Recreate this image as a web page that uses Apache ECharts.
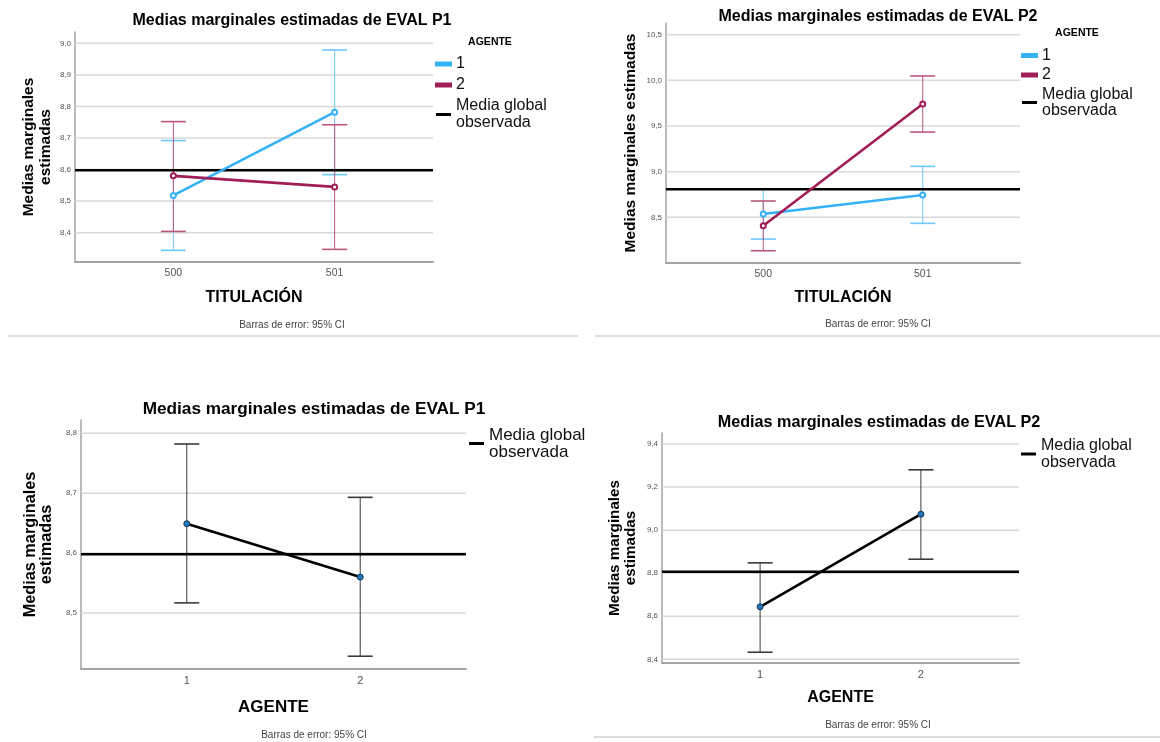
<!DOCTYPE html>
<html>
<head>
<meta charset="utf-8">
<script src="https://cdn.jsdelivr.net/npm/echarts@6/dist/echarts.min.js"></script>
<style>
html,body{margin:0;padding:0;background:#fff;}
#chart{width:1160px;height:742px;}
</style>
</head>
<body>
<div id="chart"></div>
<script>
// ---------- DATA ----------
const titulacion = ['500', '501'];
const agente = ['1', '2'];

// EVAL P1 by TITULACIÓN, separate lines per AGENTE
const p1TitAg1Mean = [8.518, 8.782];
const p1TitAg1Low  = [8.344, 8.584];
const p1TitAg1High = [8.692, 8.979];
const p1TitAg2Mean = [8.580, 8.545];
const p1TitAg2Low  = [8.404, 8.347];
const p1TitAg2High = [8.752, 8.742];

// EVAL P2 by TITULACIÓN, separate lines per AGENTE
const p2TitAg1Mean = [8.536, 8.745];
const p2TitAg1Low  = [8.262, 8.434];
const p2TitAg1High = [8.810, 9.058];
const p2TitAg2Mean = [8.408, 9.741];
const p2TitAg2Low  = [8.134, 9.434];
const p2TitAg2High = [8.679, 10.048];

// EVAL P1 by AGENTE
const p1AgMean = [8.649, 8.560];
const p1AgLow  = [8.517, 8.428];
const p1AgHigh = [8.782, 8.693];

// EVAL P2 by AGENTE
const p2AgMean = [8.644, 9.074];
const p2AgLow  = [8.433, 8.865];
const p2AgHigh = [8.848, 9.280];

// Observed global means
const p1Global = 8.598;
const p2Global = 8.807;

// Y tick values
const ticksP1Tit = [8.4, 8.5, 8.6, 8.7, 8.8, 8.9, 9.0];
const ticksP2Tit = [8.5, 9.0, 9.5, 10.0, 10.5];
const ticksP1Ag  = [8.5, 8.6, 8.7, 8.8];
const ticksP2Ag  = [8.4, 8.6, 8.8, 9.0, 9.2, 9.4];

// ---------- STYLE ----------
const FONT = "'Liberation Sans', Arial, sans-serif";
const BLUE = '#35b1f6';
const BLUE_ERR = '#6cc8fc';
const CRIMSON = '#a01e55';
const CRIMSON_ERR = '#b9587f';
const GRID_C = '#d8d8d8';
const AXIS_C = '#a3a3a3';

const chart = echarts.init(document.getElementById('chart'));

function fmtTick(v) { return (Math.round(v * 10) / 10).toFixed(1).replace('.', ','); }

function toPoints(means) { return means.map((m, i) => [i, m]); }
function toErr(low, high) { return low.map((l, i) => [i, l, high[i]]); }

function gridLines(idx, ticks) {
  return {
    type: 'custom', xAxisIndex: idx, yAxisIndex: idx, z: 1, silent: true,
    data: ticks.map(t => [0, t]),
    encode: { x: 0, y: 1 },
    renderItem: function (params, api) {
      const y = api.coord([0, api.value(1)])[1];
      const cs = params.coordSys;
      return { type: 'line', shape: { x1: cs.x, y1: y, x2: cs.x + cs.width, y2: y },
        style: { stroke: GRID_C, lineWidth: 1.5 } };
    }
  };
}

function globalLine(idx, g) {
  return {
    type: 'custom', name: 'Media global observada', xAxisIndex: idx, yAxisIndex: idx, z: 4, silent: true,
    itemStyle: { color: '#000' },
    data: [[0, g]],
    encode: { x: 0, y: 1 },
    renderItem: function (params, api) {
      const y = api.coord([0, api.value(1)])[1];
      const cs = params.coordSys;
      return { type: 'line', shape: { x1: cs.x, y1: y, x2: cs.x + cs.width, y2: y },
        style: { stroke: '#000', lineWidth: 2.6 } };
    }
  };
}

function errBars(idx, low, high, color, z) {
  return {
    type: 'custom', xAxisIndex: idx, yAxisIndex: idx, z: z || 3, silent: true,
    data: toErr(low, high),
    encode: { x: 0, y: [1, 2] },
    renderItem: function (params, api) {
      const x = api.value(0);
      const lo = api.coord([x, api.value(1)]);
      const hi = api.coord([x, api.value(2)]);
      const hw = 12.5;
      return { type: 'group', children: [
        { type: 'line', shape: { x1: lo[0], y1: lo[1], x2: hi[0], y2: hi[1] }, style: { stroke: color, lineWidth: 1 } },
        { type: 'line', shape: { x1: lo[0] - hw, y1: lo[1], x2: lo[0] + hw, y2: lo[1] }, style: { stroke: color, lineWidth: 1.6 } },
        { type: 'line', shape: { x1: hi[0] - hw, y1: hi[1], x2: hi[0] + hw, y2: hi[1] }, style: { stroke: color, lineWidth: 1.6 } }
      ]};
    }
  };
}

function meanLineTop(idx, name, means, color) {
  return {
    type: 'line', name: name, xAxisIndex: idx, yAxisIndex: idx, z: 5, silent: true,
    data: toPoints(means),
    symbol: 'emptyCircle', symbolSize: 5,
    itemStyle: { color: color, borderColor: color, borderWidth: 1 },
    lineStyle: { color: color, width: 2.6 }
  };
}

function meanLineBottom(idx, means) {
  return {
    type: 'line', name: 'EVAL', xAxisIndex: idx, yAxisIndex: idx, z: 5, silent: true,
    data: toPoints(means),
    symbol: 'circle', symbolSize: 6,
    itemStyle: { color: '#2178be', borderColor: '#12344f', borderWidth: 1 },
    lineStyle: { color: '#000', width: 2.6 }
  };
}

function xAxisDef(idx, cats, name, nameGap, nameSize, labelSize) {
  return {
    type: 'value', gridIndex: idx, min: -0.61, max: 1.61,
    name: name, nameLocation: 'middle', nameGap: nameGap,
    nameTextStyle: { fontFamily: FONT, fontSize: nameSize, fontWeight: 'bold', color: '#000' },
    axisLine: { show: true, onZero: false, lineStyle: { color: AXIS_C, width: 2 } },
    axisTick: { show: false },
    splitLine: { show: false },
    axisLabel: { customValues: [0, 1], margin: 6, fontFamily: FONT, fontSize: labelSize, color: '#555',
      formatter: v => cats[Math.round(v)] }
  };
}

function yAxisDef(idx, min, max, ticks, name, nameGap, nameSize, lh) {
  return {
    type: 'value', gridIndex: idx, min: min, max: max,
    name: name, nameLocation: 'middle', nameGap: nameGap,
    nameTextStyle: { fontFamily: FONT, fontSize: nameSize, fontWeight: 'bold', color: '#000', lineHeight: lh },
    axisLine: { show: true, onZero: false, lineStyle: { color: AXIS_C, width: 1.5 } },
    axisTick: { show: false },
    splitLine: { show: false },
    axisLabel: { customValues: ticks, margin: 4, fontFamily: FONT, fontSize: 8, color: '#555', formatter: fmtTick }
  };
}

function legendDef(left, top, names, fontSize, lineHeight, gap) {
  return {
    left: left, top: top, orient: 'vertical', selectedMode: false,
    data: names, icon: 'rect', itemWidth: 15, itemHeight: 3, itemGap: gap, padding: 0,
    textStyle: { fontFamily: FONT, fontSize: fontSize, color: '#111', lineHeight: lineHeight },
    formatter: n => n === 'Media global observada' ? 'Media global\nobservada' : n
  };
}

function txt(x, y, text, size, bold, color) {
  return { type: 'text', x: x, y: y, silent: true,
    style: { text: text, fontFamily: FONT, fontSize: size, fontWeight: bold ? 'bold' : 'normal',
      fill: color || '#000', textAlign: 'center', textVerticalAlign: 'middle' } };
}

function sep(x1, y, x2) {
  return { type: 'line', silent: true, shape: { x1: x1, y1: y, x2: x2, y2: y }, style: { stroke: '#d3d3d3', lineWidth: 1.5 } };
}

const option = {
  animation: false,
  backgroundColor: '#fff',
  textStyle: { fontFamily: FONT },
  grid: [
    { left: 75, top: 32, width: 358, height: 230 },
    { left: 666, top: 23, width: 354, height: 240 },
    { left: 81, top: 420, width: 385, height: 249 },
    { left: 662, top: 433, width: 357, height: 230 }
  ],
  xAxis: [
    xAxisDef(0, titulacion, 'TITULACIÓN', 28, 16, 10.5),
    xAxisDef(1, titulacion, 'TITULACIÓN', 27, 16, 10.5),
    xAxisDef(2, agente, 'AGENTE', 30, 17, 11),
    xAxisDef(3, agente, 'AGENTE', 27, 16, 11)
  ],
  yAxis: [
    yAxisDef(0, 8.307, 9.036, ticksP1Tit, 'Medias marginales\nestimadas', 21, 15.5, 17),
    yAxisDef(1, 8.0, 10.628, ticksP2Tit, 'Medias marginales estimadas', 27, 15.5, 17),
    yAxisDef(2, 8.4067, 8.822, ticksP1Ag, 'Medias marginales\nestimadas', 26, 16.3, 16.5),
    yAxisDef(3, 8.383, 9.451, ticksP2Ag, 'Medias marginales\nestimadas', 23, 15.2, 16)
  ],
  legend: [
    legendDef(435, 55.5, ['1', '2', 'Media global observada'], 16, 17, 4),
    legendDef(1021, 47.5, ['1', '2', 'Media global observada'], 16, 16, 3.5),
    legendDef(469, 426.5, ['Media global observada'], 17, 17, 4),
    legendDef(1021, 437.5, ['Media global observada'], 16, 16.5, 4)
  ],
  graphic: [
    txt(292, 21, 'Medias marginales estimadas de EVAL P1', 16, true),
    txt(878, 16.5, 'Medias marginales estimadas de EVAL P2', 16, true),
    txt(314, 409, 'Medias marginales estimadas de EVAL P1', 17.2, true),
    txt(879, 423, 'Medias marginales estimadas de EVAL P2', 16.2, true),
    txt(490, 42, 'AGENTE', 10.5, true),
    txt(1077, 33, 'AGENTE', 10.5, true),
    txt(292, 325, 'Barras de error: 95% CI', 10, false, '#444'),
    txt(878, 324, 'Barras de error: 95% CI', 10, false, '#444'),
    txt(314, 735, 'Barras de error: 95% CI', 10, false, '#444'),
    txt(878, 725, 'Barras de error: 95% CI', 10, false, '#444'),
    sep(8, 336, 578),
    sep(595, 336, 1160),
    sep(594, 737, 1160)
  ],
  series: [
    gridLines(0, ticksP1Tit),
    gridLines(1, ticksP2Tit),
    gridLines(2, ticksP1Ag),
    gridLines(3, ticksP2Ag),

    errBars(0, p1TitAg1Low, p1TitAg1High, BLUE_ERR),
    errBars(0, p1TitAg2Low, p1TitAg2High, CRIMSON_ERR),
    errBars(1, p2TitAg1Low, p2TitAg1High, BLUE_ERR),
    errBars(1, p2TitAg2Low, p2TitAg2High, CRIMSON_ERR),
    errBars(2, p1AgLow, p1AgHigh, '#3a3a3a'),
    errBars(3, p2AgLow, p2AgHigh, '#3a3a3a'),

    globalLine(0, p1Global),
    globalLine(1, p2Global),
    globalLine(2, p1Global),
    globalLine(3, p2Global),

    meanLineTop(0, '1', p1TitAg1Mean, BLUE),
    meanLineTop(0, '2', p1TitAg2Mean, CRIMSON),
    meanLineTop(1, '1', p2TitAg1Mean, BLUE),
    meanLineTop(1, '2', p2TitAg2Mean, CRIMSON),
    meanLineBottom(2, p1AgMean),
    meanLineBottom(3, p2AgMean)
  ]
};

chart.setOption(option);
</script>
</body>
</html>
